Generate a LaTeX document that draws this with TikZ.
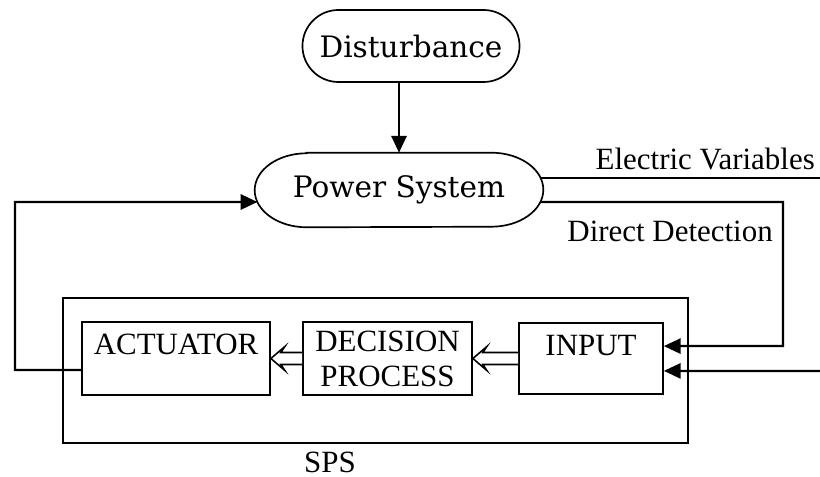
\documentclass[tikz,border=0pt]{standalone}
\usepackage{fontspec}
\newfontfamily\timesfont{Liberation Serif}
\newfontfamily\bookfont{DejaVu Serif}
\usetikzlibrary{arrows.meta, positioning, calc}

\begin{document}
\begin{tikzpicture}[
  x=0.025cm, y=-0.025cm,
  >={Triangle[length=4.2mm, width=3.8mm]},
  termbox/.style={draw, line width=1.2pt, rounded corners=0.9cm,
    minimum width=5.425cm, minimum height=1.8cm, inner sep=0pt,
    font=\bookfont\fontsize{21}{26}\selectfont},
  blockbox/.style={draw, line width=1.2pt, minimum width=#1, inner sep=0pt,
    align=center, font=\timesfont\fontsize{22}{25.5}\selectfont},
  toptext/.style={text height=0.8cm, text depth=1.02cm},
  lbl/.style={font=\timesfont\fontsize{22}{25.5}\selectfont, inner sep=0pt},
  arr/.style={->, line width=1.6pt},
  wire/.style={line width=1.2pt},
  hollow/.style={line width=1.1pt, line join=miter, fill=white},
]

\useasboundingbox (0,0) rectangle (820,477);

% Top: disturbance and plant
\node[termbox] (dist) at (411,46) {Disturbance};
\node[minimum width=7.2cm, minimum height=1.85cm, inner sep=0pt,
  font=\bookfont\fontsize{21}{26}\selectfont] (ps) at (399,190) {Power System};
\draw[line width=1.2pt] ([xshift=1.3cm]ps.north west) -- ([xshift=-1.3cm]ps.north east)
  arc[start angle=90, end angle=-90, x radius=1.3cm, y radius=0.925cm]
  -- ([xshift=1.3cm]ps.south west)
  arc[start angle=270, end angle=90, x radius=1.3cm, y radius=0.925cm] -- cycle;

\draw[arr] (dist.south -| ps.north) -- (ps.north);

% SPS block
\node[draw, line width=1.2pt, minimum width=15.625cm, minimum height=3.625cm]
  (sps) at (375.5,370.5) {};
\node[lbl] (spslbl) at (330,462) {SPS};

\node[blockbox=4.7cm, toptext] (act) at (176,358.5) {ACTUATOR};
\node[blockbox=4.225cm, minimum height=1.825cm] (dec) at (387.5,358.5)
  {DECISION\\[-0.02cm]PROCESS};
\node[blockbox=3.6cm, toptext, text depth=0.97cm] (inp) at (591,358.5) {INPUT};

% hollow arrows inside SPS
\foreach \a/\b in {inp/dec, dec/act}
  \draw[hollow] ($(\a.west)+(0,-6)$) -- ($(\b.east)+(10,-6)$) -- ($(\b.east)+(14,-12)$)
    -- (\b.east) -- ($(\b.east)+(14,12)$) -- ($(\b.east)+(10,6)$) -- ($(\a.west)+(0,6)$);

% Measurements
\coordinate (ev) at (820,178);
\coordinate (dd) at (783,346);
\coordinate (ext) at (820,371);
\coordinate (fb) at (15,202);

\draw[wire] ([xshift=-0.07cm, yshift=0.3cm]ps.east) -- (ev);
\node[lbl, anchor=base east] (evlbl) at (815,170) {Electric Variables};

\draw[arr] ([xshift=-0.07cm, yshift=-0.3cm]ps.east) -| (dd) -- ([yshift=0.31cm]inp.east);
\node[lbl, anchor=base east] (ddlbl) at (773,242) {Direct Detection};

\draw[arr] (ext) -- ([yshift=-0.31cm]inp.east);

% Feedback to the plant
\draw[arr] ([yshift=-0.29cm]act.west) -| (fb) -- ([xshift=0.07cm, yshift=-0.3cm]ps.west);

\end{tikzpicture}
\end{document}
